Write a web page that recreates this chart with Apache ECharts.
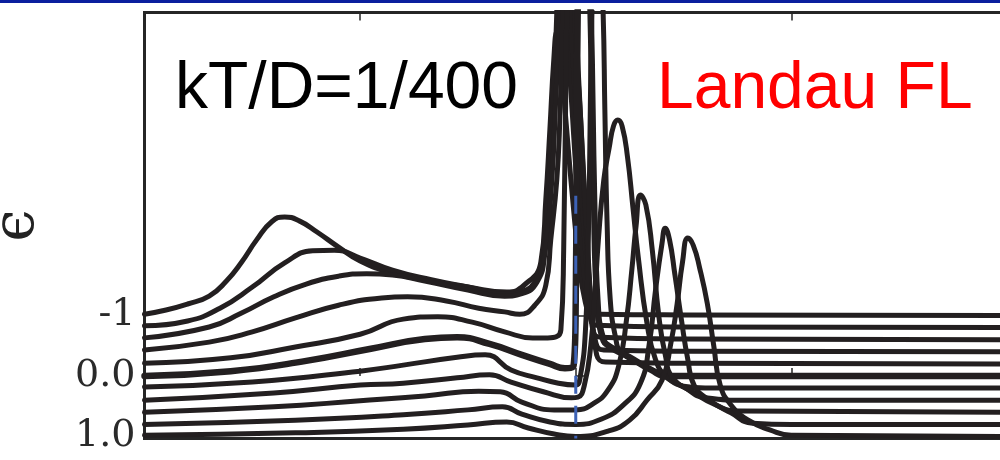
<!DOCTYPE html>
<html>
<head>
<meta charset="utf-8">
<script src="https://cdn.jsdelivr.net/npm/echarts@6/dist/echarts.min.js"></script>
<style>
  html, body { margin: 0; padding: 0; background: #ffffff; }
  #chart { width: 1000px; height: 460px; }
</style>
</head>
<body>
<div id="chart"></div>
<script>
// Momentum-resolved spectral functions A(eps, omega) of a Landau Fermi liquid,
// one curve per band energy eps, each curve shifted vertically by its eps.

// eps = -1.0
const omegaEpsM10 = [-2.0, -1.9, -1.8, -1.7, -1.62, -1.55, -1.48, -1.41, -1.35, -1.28, -1.2, -1.1, -1.0, -0.85, -0.67, -0.5, -0.32, -0.24, -0.162, -0.139, -0.12, -0.102, -0.088, -0.069, -0.042, -0.014, 0.014, 0.042, 0.069, 0.116, 0.5, 2.0];
const specEpsM10  = [0.02, 0.09, 0.19, 0.32, 0.57, 0.88, 1.25, 1.55, 1.63, 1.56, 1.38, 1.13, 0.90, 0.70, 0.57, 0.47, 0.39, 0.50, 0.88, 1.91, 3.07, 4.22, 4.69, 4.22, 3.07, 1.91, 0.92, 0.26, 0.06, 0.02, 0.01, 0];

// eps = -0.8
const omegaEpsM08 = [-2.0, -1.8, -1.65, -1.5, -1.35, -1.22, -1.12, -1.0, -0.85, -0.67, -0.5, -0.32, -0.25, -0.18, -0.148, -0.125, -0.106, -0.088, -0.069, -0.042, -0.014, 0.014, 0.042, 0.065, 0.097, 0.5, 2.0];
const specEpsM08  = [0.03, 0.11, 0.32, 0.67, 1.07, 1.27, 1.28, 1.15, 0.95, 0.79, 0.67, 0.55, 0.59, 0.82, 1.28, 2.44, 3.76, 5.20, 8.72, 5.20, 3.43, 1.95, 0.79, 0.21, 0.04, 0.01, 0];

// eps = -0.6
const omegaEpsM06 = [-2.0, -1.7, -1.55, -1.4, -1.25, -1.1, -0.97, -0.85, -0.7, -0.5, -0.33, -0.25, -0.18, -0.144, -0.111, -0.093, -0.074, -0.051, -0.023, 0.005, 0.032, 0.056, 0.079, 0.116, 0.5, 2.0];
const specEpsM06  = [0.03, 0.21, 0.44, 0.71, 0.92, 1.05, 1.09, 1.07, 0.97, 0.82, 0.72, 0.76, 0.95, 1.40, 2.64, 3.96, 5.40, 8.92, 5.40, 3.63, 2.14, 0.99, 0.16, 0.04, 0.01, 0];

// eps = -0.4
const omegaEpsM04 = [-2.0, -1.7, -1.5, -1.3, -1.1, -0.9, -0.78, -0.6, -0.45, -0.33, -0.26, -0.19, -0.139, -0.116, -0.088, -0.074, -0.06, -0.032, 0, 0.023, 0.046, 0.069, 0.093, 0.13, 0.5, 2.0];
const specEpsM04  = [0.03, 0.16, 0.33, 0.56, 0.77, 0.89, 0.91, 0.84, 0.72, 0.66, 0.62, 0.77, 1.10, 1.85, 2.84, 3.83, 5.60, 9.12, 5.60, 3.83, 2.18, 0.86, 0.15, 0.03, 0.01, 0];

// eps = -0.2
const omegaEpsM02 = [-2.0, -1.6, -1.3, -1.0, -0.8, -0.64, -0.48, -0.33, -0.2, -0.13, -0.069, -0.056, -0.042, -0.023, -0.005, 0.023, 0.051, 0.074, 0.097, 0.139, 0.5, 2.0];
const specEpsM02  = [0.01, 0.10, 0.28, 0.49, 0.74, 0.78, 0.69, 0.53, 0.43, 0.43, 0.56, 1.88, 5.80, 9.32, 5.80, 4.03, 2.21, 0.89, 0.15, 0.03, 0.01, 0];

// eps = 0.0
const omegaEps00 = [-2.0, -1.6, -1.25, -0.95, -0.7, -0.55, -0.4, -0.25, -0.12, -0.05, -0.01, 0, 0.009, 0.039, 0.069, 0.085, 0.1, 0.125, 0.16, 0.25, 0.35, 0.42, 2.0];
const specEps00  = [0, 0.08, 0.25, 0.45, 0.61, 0.64, 0.53, 0.35, 0.20, 0.13, 0.17, 1.26, 6.0, 9.52, 6.0, 2.91, 1.26, 0.63, 0.48, 0.31, 0.10, 0, 0];

// eps = 0.2
const omegaEpsP02 = [-2.0, -1.5, -1.0, -0.8, -0.55, -0.42, -0.3, -0.18, -0.08, 0, 0.02, 0.045, 0.06, 0.075, 0.1, 0.127, 0.135, 0.145, 0.16, 0.185, 0.21, 0.3, 0.4, 0.5, 0.6, 2.0];
const specEpsP02  = [0.02, 0.10, 0.28, 0.38, 0.51, 0.55, 0.30, 0.17, 0.08, 0.05, 0.17, 0.96, 2.78, 6.20, 8.89, 6.20, 4.60, 2.78, 1.46, 0.83, 0.60, 0.40, 0.22, 0.03, 0, 0];

// eps = 0.4
const omegaEpsP04 = [-2.0, -1.4, -1.0, -0.8, -0.55, -0.4, -0.3, -0.15, -0.02, 0.01, 0.04, 0.07, 0.09, 0.105, 0.13, 0.155, 0.175, 0.195, 0.215, 0.24, 0.265, 0.29, 0.33, 0.37, 0.42, 0.5, 0.6, 0.8, 2.0];
const specEpsP04  = [0, 0.12, 0.25, 0.28, 0.37, 0.42, 0.30, 0.14, 0.04, 0.05, 0.25, 0.91, 1.82, 2.65, 3.64, 4.17, 4.53, 4.63, 4.53, 4.02, 3.19, 2.36, 1.28, 0.67, 0.39, 0.22, 0.04, 0, 0];

// eps = 0.6
const omegaEpsP06 = [-2.0, -1.4, -1.0, -0.7, -0.45, -0.35, -0.25, -0.1, 0, 0.08, 0.15, 0.2, 0.235, 0.26, 0.28, 0.3, 0.325, 0.355, 0.385, 0.415, 0.45, 0.55, 0.65, 0.75, 2.0];
const specEpsP06  = [0, 0.09, 0.19, 0.27, 0.35, 0.34, 0.17, 0.04, 0.04, 0.14, 0.37, 0.78, 1.52, 2.35, 3.09, 3.59, 3.43, 2.68, 1.60, 0.95, 0.57, 0.32, 0.12, 0.02, 0];

// eps = 0.8
const omegaEpsP08 = [-2.0, -1.3, -0.8, -0.5, -0.34, -0.25, -0.12, 0, 0.12, 0.22, 0.3, 0.34, 0.37, 0.4, 0.415, 0.435, 0.46, 0.49, 0.52, 0.55, 0.62, 0.72, 0.82, 1.0, 2.0];
const specEpsP08  = [0, 0.07, 0.16, 0.24, 0.29, 0.17, 0.04, 0, 0.09, 0.32, 0.68, 1.31, 2.22, 2.99, 3.24, 3.05, 2.47, 1.73, 1.07, 0.64, 0.40, 0.19, 0.02, 0, 0];

// eps = 1.0
const omegaEpsP10 = [-2.0, -1.3, -0.8, -0.5, -0.32, -0.22, -0.1, 0, 0.15, 0.25, 0.33, 0.4, 0.44, 0.47, 0.495, 0.52, 0.545, 0.575, 0.61, 0.64, 0.67, 0.72, 0.8, 0.9, 1.0, 2.0];
const specEpsP10  = [0.02, 0.06, 0.12, 0.19, 0.24, 0.14, 0.04, 0, 0.09, 0.27, 0.60, 0.93, 1.52, 2.19, 2.88, 3.28, 3.16, 2.78, 2.20, 1.50, 0.85, 0.52, 0.27, 0.11, 0.02, 0];

const curves = [
  { eps: -1.0, omega: omegaEpsM10, spec: specEpsM10 },
  { eps: -0.8, omega: omegaEpsM08, spec: specEpsM08 },
  { eps: -0.6, omega: omegaEpsM06, spec: specEpsM06 },
  { eps: -0.4, omega: omegaEpsM04, spec: specEpsM04 },
  { eps: -0.2, omega: omegaEpsM02, spec: specEpsM02 },
  { eps:  0.0, omega: omegaEps00,  spec: specEps00 },
  { eps:  0.2, omega: omegaEpsP02, spec: specEpsP02 },
  { eps:  0.4, omega: omegaEpsP04, spec: specEpsP04 },
  { eps:  0.6, omega: omegaEpsP06, spec: specEpsP06 },
  { eps:  0.8, omega: omegaEpsP08, spec: specEpsP08 },
  { eps:  1.0, omega: omegaEpsP10, spec: specEpsP10 }
];

// eps tick labels on the left axis
const epsTickValues = [-1, 0, 1];
const epsTickLabels = ['-1', '0.0', '1.0'];

// omega axis range and ticks
const omegaMin = -2, omegaMax = 2, omegaStep = 1;

// Fermi level marker (omega = 0), drawn from eps = -2.98 down to the bottom
const fermiOmega = 0;
const fermiSpan = [-2.98, 1.033];

const chart = echarts.init(document.getElementById('chart'), null, { renderer: 'canvas' });

const curveSeries = curves.map(c => ({
  type: 'line',
  name: 'eps ' + c.eps,
  data: c.omega.map((w, i) => [w, c.eps - c.spec[i]]),
  showSymbol: false,
  smooth: 0.5,
  clip: true,
  silent: true,
  lineStyle: { color: '#231f20', width: c.eps === 0 ? 6.5 : 5, cap: 'round', join: 'round' },
  z: 2
}));

const fermiSeries = {
  type: 'line',
  name: 'fermi',
  data: fermiSpan.map(v => [fermiOmega, v]),
  showSymbol: false,
  silent: true,
  lineStyle: { color: '#3d62b5', width: 3, type: [18, 12] },
  z: 5
};

const axisTickBase = {
  show: true,
  inside: true,
  length: 8,
  lineStyle: { color: '#262626', width: 1.5 }
};

chart.setOption({
  animation: false,
  backgroundColor: '#ffffff',
  grid: {
    left: 144.5, right: -7, top: 12.5, bottom: 21.5,
    containLabel: false, outerBoundsMode: 'none',
    show: true, borderColor: '#262626', borderWidth: 3, backgroundColor: 'transparent'
  },
  xAxis: [
    {
      type: 'value', min: omegaMin, max: omegaMax, interval: omegaStep, position: 'bottom',
      axisLine: { show: false }, axisLabel: { show: false }, splitLine: { show: false },
      axisTick: axisTickBase
    },
    {
      type: 'value', min: omegaMin, max: omegaMax, interval: omegaStep, position: 'top',
      axisLine: { show: false }, axisLabel: { show: false }, splitLine: { show: false },
      axisTick: axisTickBase
    }
  ],
  yAxis: {
    type: 'value', inverse: true, min: -6.008, max: 1.033,
    name: 'ϵ', nameLocation: 'middle', nameRotate: 90, nameGap: 98,
    nameTextStyle: { fontFamily: 'DejaVu Serif', fontSize: 58, color: '#222222' },
    axisLine: { show: false }, splitLine: { show: false },
    axisTick: Object.assign({}, axisTickBase, { length: 10, customValues: epsTickValues }),
    axisLabel: {
      customValues: epsTickValues,
      margin: 9,
      padding: [5, 0, 0, 0],
      fontFamily: 'DejaVu Serif', fontSize: 38, color: '#2a2a2a',
      formatter: v => {
        const i = epsTickValues.indexOf(v);
        return i >= 0 ? epsTickLabels[i] : '';
      }
    }
  },
  graphic: [
    { type: 'rect', left: 0, top: 0, shape: { width: 1000, height: 3 }, style: { fill: '#0b1f9e' }, z: 10 },
    { type: 'text', x: 175, y: 90, style: { text: 'kT/D=1/400', fontFamily: 'Liberation Sans', fontSize: 66, fill: '#000000', verticalAlign: 'middle', align: 'left' }, z: 10 },
    { type: 'text', x: 657, y: 90, style: { text: 'Landau FL', fontFamily: 'Liberation Sans', fontSize: 66, fill: '#ff0000', verticalAlign: 'middle', align: 'left' }, z: 10 }
  ],
  series: curveSeries.concat([fermiSeries])
});
</script>
</body>
</html>
